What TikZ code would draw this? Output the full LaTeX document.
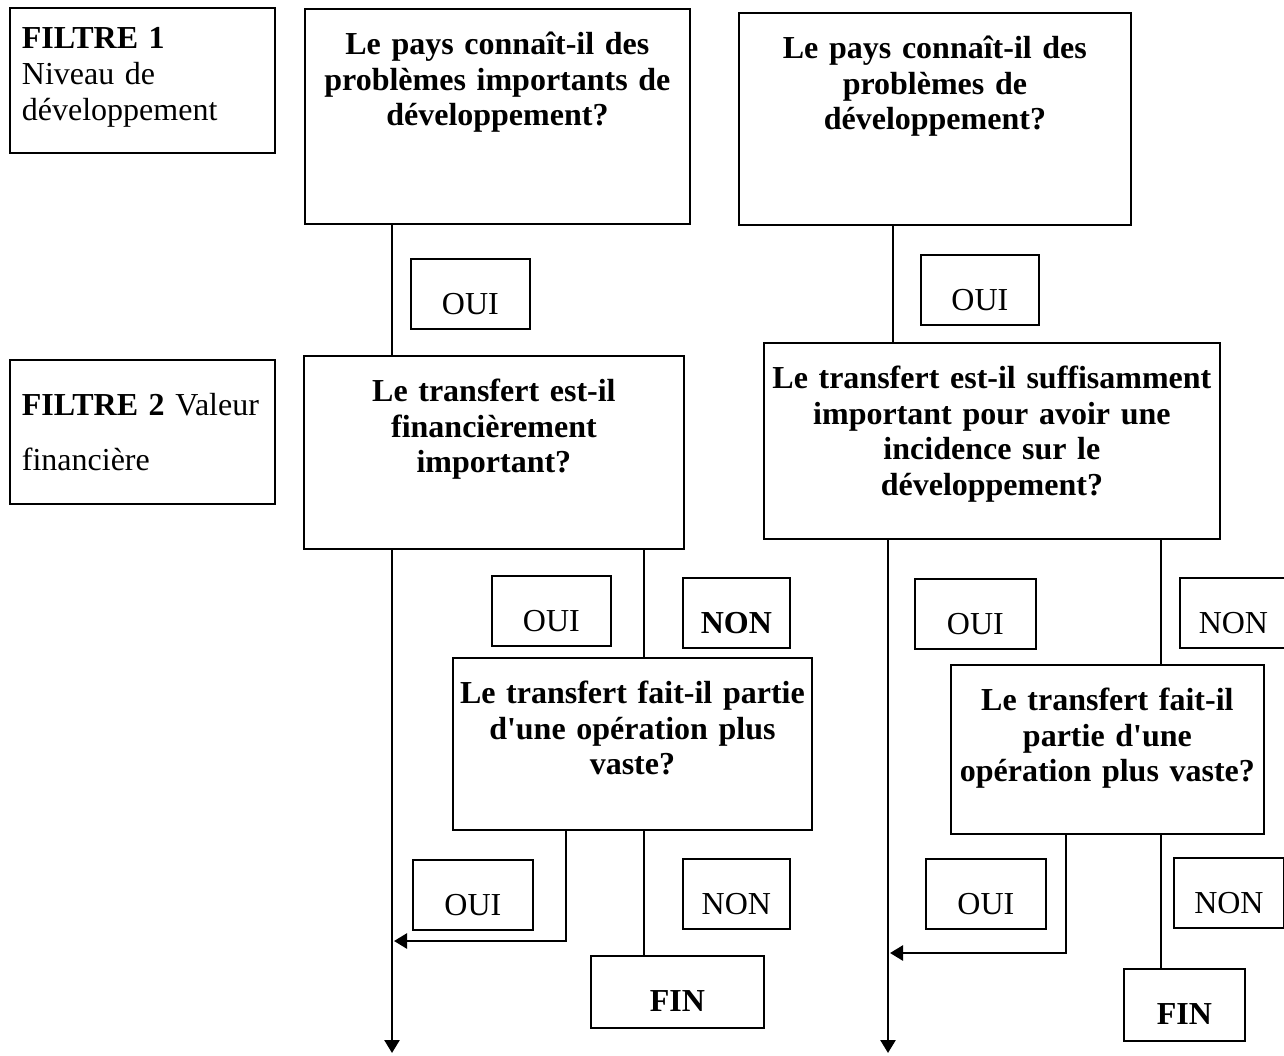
\documentclass[tikz,border=0pt]{standalone}
\usepackage{fontspec}
\setmainfont{Liberation Serif}
\usetikzlibrary{arrows.meta}

\newcommand\taille{\fontsize{16}{17.75}\selectfont}

\tikzset{
  filtre/.style={draw, line width=.9pt, align=left, anchor=north west,
    inner xsep=6pt, inner ysep=0pt, text width=120.5pt},
  question/.style={draw, line width=.9pt, font=\taille\bfseries, align=center,
    anchor=north west, inner xsep=2pt, inner ysep=0pt, text height=23pt},
  reponse/.style={draw, line width=.9pt, font=\taille, anchor=north west,
    inner sep=0pt, text height=28pt, text depth=7pt},
  fin/.style={reponse, font=\taille\bfseries, text depth=8pt},
  lien/.style={line width=.8pt},
  fleche/.style={line width=1.3pt, -{Triangle[length=6.5pt,width=7.5pt]}}
}

\begin{document}
\begin{tikzpicture}[x=.5pt, y=-.5pt, font=\taille]
  \useasboundingbox (0,0) rectangle (1284,1055);

  % filtres
  \node[filtre, text height=20.5pt, text depth=52pt, font=\fontsize{16}{18}\selectfont]
    (f1) at (9,7) {\textbf{FILTRE 1}\\Niveau de\\développement};
  \node[filtre, text height=28pt, text depth=44pt, font=\fontsize{16}{27.5}\selectfont]
    (f2) at (9,359) {\textbf{FILTRE 2} Valeur\\financière};

  % questions
  \node[question, text width=188.5pt, text depth=84.5pt] (q1) at (304,8)
    {Le pays connaît-il des\\problèmes importants de\\développement?};
  \node[question, text width=192pt, text depth=83pt] (q2) at (738,12)
    {Le pays connaît-il des\\problèmes de\\développement?};
  \node[question, text width=186pt, text depth=73.5pt] (q3) at (303,355)
    {Le transfert est-il\\financièrement\\important?};
  \node[question, text width=224pt, text depth=75pt] (q4) at (763,342)
    {Le transfert est-il suffisamment\\important pour avoir une\\incidence sur le\\développement?};
  \node[question, text width=175.5pt, text depth=63pt] (q5) at (452,657)
    {Le transfert fait-il partie\\d\textquotesingle une opération plus\\vaste?};
  \node[question, text width=152.5pt, text depth=61.5pt] (q6) at (950,664)
    {Le transfert fait-il\\partie d\textquotesingle une\\opération plus vaste?};

  % reponses
  \node[reponse, minimum width=59.5pt] (r1) at (410,258) {OUI};
  \node[reponse, minimum width=59pt] (r2) at (920,254) {OUI};
  \node[reponse, minimum width=59.5pt] (r3) at (491,575) {OUI};
  \node[reponse, minimum width=53.5pt, font=\taille\bfseries] (r4) at (682,577) {NON};
  \node[reponse, minimum width=60.5pt] (r5) at (914,578) {OUI};
  \node[reponse, minimum width=53.5pt] (r6) at (1179,577) {NON};
  \node[reponse, minimum width=60pt] (r7) at (412,859) {OUI};
  \node[reponse, minimum width=53.5pt] (r8) at (682,858) {NON};
  \node[reponse, minimum width=60pt] (r9) at (925,858) {OUI};
  \node[reponse, minimum width=55pt] (r10) at (1173,857) {NON};
  \node[fin, minimum width=86.5pt] (fin1) at (590,955) {FIN};
  \node[fin, minimum width=60.5pt] (fin2) at (1123,968) {FIN};

  % colonnes des liens
  \coordinate (axeL) at (392,1053);
  \coordinate (axeR) at (888,1053);
  \coordinate (xA) at (644,0);
  \coordinate (xB) at (893,0);
  \coordinate (xC) at (1161,0);
  \coordinate (xD) at (566,0);
  \coordinate (xE) at (1066,0);
  \coordinate (retourL) at (394,941);
  \coordinate (retourR) at (890,953);

  % liens
  \draw[lien] (q1.south -| axeL) -- (q3.north -| axeL);
  \draw[lien] (q2.south -| xB) -- (q4.north -| xB);
  \draw[fleche] (q3.south -| axeL) -- (axeL);
  \draw[fleche] (q4.south -| axeR) -- (axeR);
  \draw[lien] (q3.south -| xA) -- (q5.north -| xA);
  \draw[lien] (q5.south -| xA) -- (fin1.north -| xA);
  \draw[lien] (q4.south -| xC) -- (q6.north -| xC);
  \draw[lien] (q6.south -| xC) -- (fin2.north -| xC);
  \draw[fleche] (q5.south -| xD) |- (retourL);
  \draw[fleche] (q6.south -| xE) |- (retourR);
\end{tikzpicture}
\end{document}
